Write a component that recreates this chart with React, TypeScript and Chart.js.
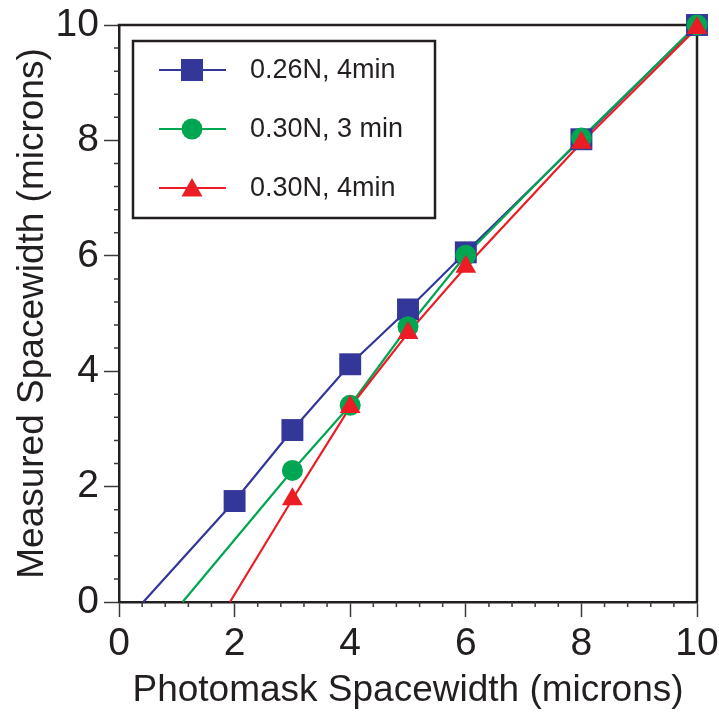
import React, { useEffect, useRef } from 'react';
import { Chart, registerables } from 'chart.js';

Chart.register(...registerables);

// ---- data ----
const photomaskBlue = [2, 3, 4, 5, 6, 8, 10];
const measuredBlue = [1.75, 2.98, 4.12, 5.07, 6.06, 8.02, 10.0];
const photomaskGreenRed = [3, 4, 5, 6, 8, 10];
const measuredGreen = [2.28, 3.41, 4.77, 6.01, 8.04, 10.0];
const measuredRed = [1.78, 3.38, 4.66, 5.81, 7.96, 9.95];
// x where each fitted line reaches 0
const blueZeroX = 0.42;
const greenZeroX = 1.1;
const redZeroX = 1.92;
const seriesLabels = ['0.26N, 4min', '0.30N, 3 min', '0.30N, 4min'];
const xTitle = 'Photomask Spacewidth (microns)';
const yTitle = 'Measured Spacewidth (microns)';
const axisMin = 0;
const axisMax = 10;
const majorStep = 2;
const minorStep = 0.4;

// ---- styles ----
const FONT = '"Liberation Sans", Arial, Helvetica, sans-serif';
const TEXT = '#231f20';
const AXIS = '#231f20';
const BLUE = '#33379a';
const GREEN = '#00a651';
const RED = '#ec1c24';

const pts = (xs: number[], ys: number[]) => xs.map((x, i) => ({ x, y: ys[i] }));

const framePlugin = {
  id: 'frame',
  beforeDatasetsDraw(chart: any) {
    const { ctx, chartArea, scales } = chart;
    const { left, right, top, bottom } = chartArea;
    ctx.save();
    ctx.strokeStyle = AXIS;
    ctx.lineWidth = 2.5;
    ctx.beginPath();
    ctx.moveTo(left - 1.25, top);
    ctx.lineTo(right, top);
    ctx.lineTo(right, bottom);
    ctx.stroke();
    // minor ticks
    ctx.lineWidth = 1.5;
    ctx.strokeStyle = '#3a3a3a';
    ctx.beginPath();
    const n = Math.round((axisMax - axisMin) / minorStep);
    for (let i = 0; i <= n; i++) {
      const v = axisMin + i * minorStep;
      if (Math.abs(v / majorStep - Math.round(v / majorStep)) < 1e-6) continue;
      const px = scales.x.getPixelForValue(v);
      ctx.moveTo(px, bottom);
      ctx.lineTo(px, bottom + 5);
      const py = scales.y.getPixelForValue(v);
      ctx.moveTo(left, py);
      ctx.lineTo(left - 5, py);
    }
    ctx.stroke();
    ctx.restore();
  },
  afterDatasetsDraw(chart: any) {
    const { ctx, chartArea } = chart;
    const bx = chartArea.left + 14;
    const by = chartArea.top + 16;
    const bw = 302;
    const bh = 177;
    ctx.save();
    ctx.fillStyle = '#ffffff';
    ctx.fillRect(bx, by, bw, bh);
    ctx.strokeStyle = AXIS;
    ctx.lineWidth = 2.5;
    ctx.strokeRect(bx, by, bw, bh);
    const colors = [BLUE, GREEN, RED];
    const rowsY = [by + 29, by + 88, by + 147];
    for (let i = 0; i < 3; i++) {
      const cy = rowsY[i];
      const cx = bx + 59;
      ctx.strokeStyle = colors[i];
      ctx.lineWidth = 2;
      ctx.beginPath();
      ctx.moveTo(bx + 26, cy);
      ctx.lineTo(bx + 93, cy);
      ctx.stroke();
      ctx.fillStyle = colors[i];
      ctx.beginPath();
      if (i === 0) {
        ctx.rect(cx - 11, cy - 11, 22, 22);
      } else if (i === 1) {
        ctx.arc(cx, cy, 10.5, 0, Math.PI * 2);
      } else {
        ctx.moveTo(cx, cy - 10);
        ctx.lineTo(cx + 10.5, cy + 8.5);
        ctx.lineTo(cx - 10.5, cy + 8.5);
        ctx.closePath();
      }
      ctx.fill();
      ctx.fillStyle = TEXT;
      ctx.font = `27px ${FONT}`;
      ctx.textBaseline = 'middle';
      ctx.textAlign = 'left';
      ctx.fillText(seriesLabels[i], bx + 117, cy + 1);
    }
    ctx.restore();
  },
};

export default function App() {
  const ref = useRef<HTMLCanvasElement>(null);
  useEffect(() => {
    document.body.style.margin = '0';
    const markerCommon = { showLine: false, pointBorderWidth: 0, clip: false as any };
    const lineCommon = { showLine: true, pointRadius: 0, borderWidth: 2.2, clip: false as any, fill: false };
    const chart = new Chart(ref.current as HTMLCanvasElement, {
      type: 'scatter',
      data: {
        datasets: [
          { ...markerCommon, label: seriesLabels[2], data: pts(photomaskGreenRed, measuredRed), pointStyle: 'triangle', pointRadius: 12, backgroundColor: RED, borderColor: RED },
          { ...markerCommon, label: seriesLabels[1], data: pts(photomaskGreenRed, measuredGreen), pointStyle: 'circle', pointRadius: 10.5, backgroundColor: GREEN, borderColor: GREEN },
          { ...markerCommon, label: seriesLabels[0], data: pts(photomaskBlue, measuredBlue), pointStyle: 'rect', pointRadius: 15.5, backgroundColor: BLUE, borderColor: BLUE },
          { ...lineCommon, label: 'fit red', data: [{ x: redZeroX, y: 0 }, ...pts(photomaskGreenRed, measuredRed)], borderColor: RED },
          { ...lineCommon, label: 'fit green', data: [{ x: greenZeroX, y: 0 }, ...pts(photomaskGreenRed, measuredGreen)], borderColor: GREEN },
          { ...lineCommon, label: 'fit blue', data: [{ x: blueZeroX, y: 0 }, ...pts(photomaskBlue, measuredBlue)], borderColor: BLUE },
        ],
      },
      options: {
        responsive: false,
        animation: false,
        devicePixelRatio: 1,
        layout: { padding: { top: 25, right: 22, left: 0, bottom: 0 } },
        plugins: { legend: { display: false }, tooltip: { enabled: false } },
        scales: {
          x: {
            type: 'linear',
            min: axisMin,
            max: axisMax,
            afterFit: (s: any) => { s.height = 113; s.paddingLeft = 0; s.paddingRight = 0; },
            ticks: { stepSize: majorStep, color: TEXT, padding: 8, font: { size: 39, family: FONT, lineHeight: 1 }, maxRotation: 0, callback: (v: any) => String(v) },
            grid: { drawOnChartArea: false, drawTicks: true, tickLength: 15, tickWidth: 1.5, tickColor: '#3a3a3a' },
            border: { display: true, width: 2.5, color: AXIS },
            title: { display: true, text: xTitle, color: TEXT, font: { size: 37, family: FONT, lineHeight: 1 }, padding: { top: 0, bottom: 6 } },
          },
          y: {
            type: 'linear',
            min: axisMin,
            max: axisMax,
            afterFit: (s: any) => { s.width = 119; s.paddingTop = 0; s.paddingBottom = 0; },
            ticks: { stepSize: majorStep, color: TEXT, padding: 5, font: { size: 39, family: FONT, lineHeight: 1 }, callback: (v: any) => String(v) },
            grid: { drawOnChartArea: false, drawTicks: true, tickLength: 15, tickWidth: 1.5, tickColor: '#3a3a3a' },
            border: { display: true, width: 2.5, color: AXIS },
            title: { display: true, text: yTitle, color: TEXT, font: { size: 37, family: FONT, lineHeight: 1 }, padding: { top: 14, bottom: 0 } },
          },
        },
      } as any,
      plugins: [framePlugin],
    });
    return () => chart.destroy();
  }, []);
  return (
    <canvas
      ref={ref}
      width={719}
      height={715}
      style={{ display: 'block', width: 719, height: 715 }}
    />
  );
}
